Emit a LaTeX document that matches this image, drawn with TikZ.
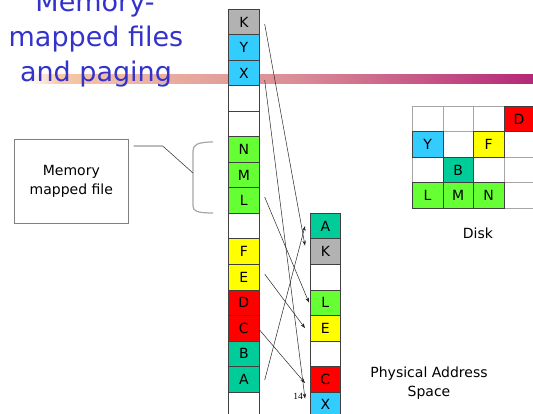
\documentclass[tikz,border=0pt]{standalone}
\usepackage{fontspec}
\setmainfont{DejaVu Sans}
\newfontfamily\numfont{Liberation Serif}
\usetikzlibrary{arrows.meta,calc}
\definecolor{kgray}{RGB}{178,178,178}
\definecolor{cyanc}{RGB}{51,204,255}
\definecolor{greenc}{RGB}{102,255,51}
\definecolor{yellowc}{RGB}{255,255,0}
\definecolor{redc}{RGB}{255,0,0}
\definecolor{tealc}{RGB}{0,204,153}
\definecolor{titleblue}{RGB}{51,51,204}
\definecolor{barA}{RGB}{246,200,168}
\definecolor{barB}{RGB}{218,140,150}
\definecolor{barC}{RGB}{180,40,120}
\begin{document}
\begin{tikzpicture}[x=1pt,y=-1pt,
  cell/.style={draw=black!75, line width=0.7pt, minimum width=31pt, minimum height=25.5pt,
    inner sep=0pt, anchor=north west, font=\fontsize{14}{14}\selectfont},
  dcell/.style={cell, minimum width=30.5pt},
  title/.style={text=titleblue, anchor=base, inner sep=0pt, font=\fontsize{27}{27}\selectfont},
  lbl/.style={align=center, inner sep=0pt, font=\fontsize{14}{19}\selectfont},
  conn/.style={-{Stealth[length=5pt,width=3.5pt]}, line width=0.5pt, black!85},
  brace/.style={draw=gray!70, line width=1.2pt}
]
\useasboundingbox (0,0) rectangle (533,414);
% decorative bar
\shade[left color=white, right color=barA] (28,75) rectangle (60,84);
\shade[left color=barA, right color=barC, middle color=barB] (60,75) rectangle (533,84);
% title
\node[title] (t1) at (95,12) {Memory-};
\node[title] (t2) at (96,47) {mapped files};
\node[title] (t3) at (96,82) {and paging};
% virtual address space column
\foreach \t/\c/\n [count=\i from 0] in {K/kgray/lK, Y/cyanc/lY, X/cyanc/lX, {}/white/lb1, {}/white/lb2,
  N/greenc/lN, M/greenc/lM, L/greenc/lL, {}/white/lb3, F/yellowc/lF, E/yellowc/lE, D/redc/lD,
  C/redc/lC, B/tealc/lB, A/tealc/lA, {}/white/lb4}
  \node[cell, fill=\c] (\n) at (228,9+25.5*\i) {\t};
% physical address space column
\foreach \t/\c/\n [count=\i from 0] in {A/tealc/rA, K/kgray/rK, {}/white/rb1, L/greenc/rL,
  E/yellowc/rE, {}/white/rb2, C/redc/rC, X/cyanc/rX}
  \node[cell, fill=\c, minimum width=30pt] (\n) at (310,213+25.5*\i) {\t};
% disk
\foreach \col/\row/\n in {0/0/d1, 1/0/d2, 2/0/d3, 1/1/d4, 3/1/d5, 0/2/d6, 2/2/d7, 3/2/d8, 3/3/d9}
  \node[dcell, draw=gray!70, fill=white] (\n) at (412+30.5*\col,106+25.5*\row) {};
\foreach \t/\c/\col/\row/\n in {D/redc/3/0/dD, Y/cyanc/0/1/dY, F/yellowc/2/1/dF, B/tealc/1/2/dB,
  L/greenc/0/3/dL, M/greenc/1/3/dM, N/greenc/2/3/dN}
  \node[dcell, fill=\c] (\n) at (412+30.5*\col,106+25.5*\row) {\t};
\node[lbl] (disk) at (478,233) {Disk};
\node[lbl] (phys) at (429,383.5) {Physical Address\\Space};
% memory mapped file box
\node[draw=gray, line width=0.7pt, minimum width=114pt, minimum height=84pt, anchor=north west, lbl]
  (mmf) at (14,139) {Memory\\mapped file};
% brace
\coordinate (bracemid) at (193,173);
\path[brace] (213,142) .. controls (197,142) and (193,145) .. (193,151) -- (193,206)
  .. controls (193,211) and (197,213) .. (213,213);
\draw[black!75, line width=0.6pt] ($(mmf.north east)+(5,7)$) -- ++(29,0) -- (bracemid);
% connectors
\draw[conn] ([xshift=5pt,yshift=-2pt]lK.east) -- ([xshift=-5pt,yshift=6pt]rK.west);
\draw[conn] ([xshift=5pt,yshift=-7pt]lX.east) -- ([xshift=-5pt,yshift=6pt]rX.west);
\draw[conn] ([xshift=5pt,yshift=3.5pt]lL.east) -- ([xshift=-1pt]rL.west);
\draw[conn] ([xshift=5pt,yshift=3pt]lE.east) -- ([xshift=-5pt]rE.west);
\draw[conn] ([yshift=-2pt]lC.east) -- ([xshift=-5pt,yshift=-4pt]rC.west);
\draw[conn] ([xshift=5pt,yshift=-1pt]lA.east) -- ([xshift=-5pt]rA.west);
% slide number
\node[inner sep=0pt, font=\numfont\fontsize{9.5}{9.5}\selectfont] (pnum) at (298,396) {14};
\end{tikzpicture}
\end{document}
